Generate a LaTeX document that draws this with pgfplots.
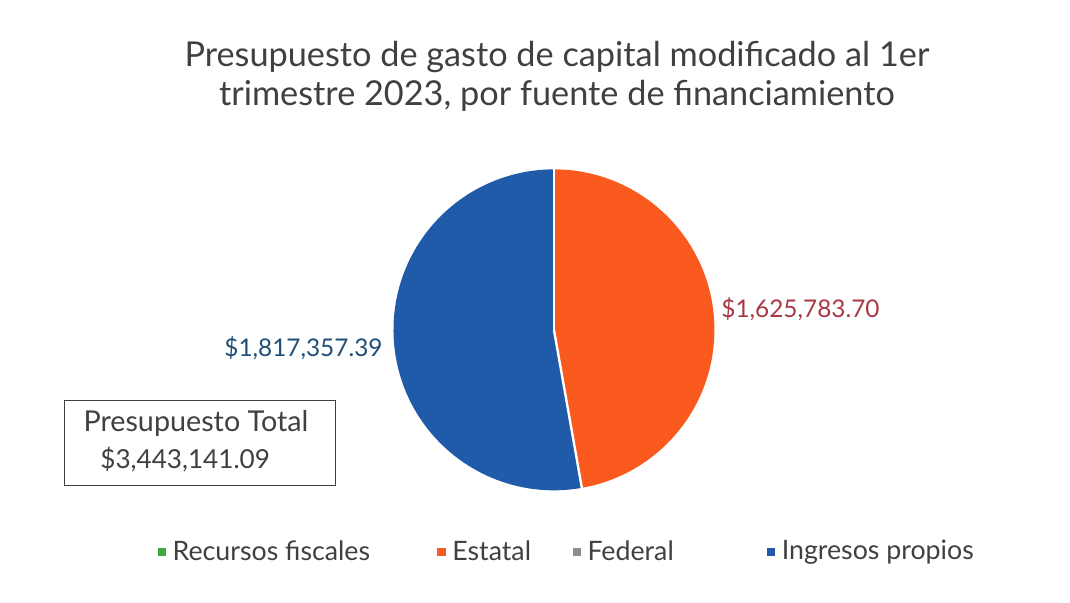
\documentclass[border=0pt]{standalone}
\usepackage{pgfplots}
\usepackage{pgfplotstable}
\pgfplotsset{compat=1.18}
\usepackage{fontspec}
\setmainfont{Lato}
\definecolor{cEst}{HTML}{FA5A1E}
\definecolor{cIng}{HTML}{1F5BA8}
\definecolor{cRec}{HTML}{3DAA3D}
\definecolor{cFed}{HTML}{8C8C8C}
\definecolor{lEst}{HTML}{A83846}
\definecolor{lIng}{HTML}{1F4E79}
\definecolor{ctit}{HTML}{404040}

\pgfplotstableread{
fuente valor
Recursos 0
Estatal 1625783.70
Federal 0
Ingresos 1817357.39
}\datos

\begin{document}
\pgfplotstablegetelem{1}{valor}\of\datos \let\vEst\pgfplotsretval
\pgfplotstablegetelem{3}{valor}\of\datos \let\vIng\pgfplotsretval
\edef\angEst{\fpeval{360*\vEst/(\vEst+\vIng)}}
\edef\endEst{\fpeval{90-\angEst}}
\begin{tikzpicture}
\useasboundingbox (0,0) rectangle (535pt,304pt);
\begin{axis}[
  at={(0,0)}, anchor=south west,
  scale only axis, width=535pt, height=304pt,
  xmin=0, xmax=1070, ymin=0, ymax=608,
  hide axis, clip=false,
  legend columns=4,
  legend style={draw=none, fill=none, at={(axis cs:563,51)}, anchor=center,
    font=\fontsize{13.5}{15}\selectfont, text=ctit,
    /tikz/column 1/.style={column sep=1.5pt},
    /tikz/column 3/.style={column sep=1.5pt},
    /tikz/column 5/.style={column sep=1.5pt},
    /tikz/column 7/.style={column sep=1.5pt},
    /tikz/column 2/.style={column sep=32pt},
    /tikz/column 4/.style={column sep=19pt},
    /tikz/column 6/.style={column sep=45pt}},
]
% slices
\fill[cEst] (axis cs:549,275) -- ++(90:81pt) arc[start angle=90, end angle=\endEst, radius=81pt] -- cycle;
\fill[cIng] (axis cs:549,275) -- ++(\endEst:81pt) arc[start angle=\endEst, end angle=-270, radius=81pt] -- cycle;
\draw[white, line width=1.2pt] (axis cs:549,275) -- ++(90:82pt);
\draw[white, line width=1.2pt] (axis cs:549,275) -- ++(\endEst:82pt);

% legend
\addlegendimage{legend image code/.code={\fill[cRec] (0pt,-1.8pt) rectangle (3.6pt,1.8pt);}}
\addlegendentry{Recursos fiscales}
\addlegendimage{legend image code/.code={\fill[cEst] (0pt,-1.8pt) rectangle (3.6pt,1.8pt);}}
\addlegendentry{Estatal}
\addlegendimage{legend image code/.code={\fill[cFed] (0pt,-1.8pt) rectangle (3.6pt,1.8pt);}}
\addlegendentry{Federal}
\addlegendimage{legend image code/.code={\fill[cIng] (0pt,-1.8pt) rectangle (3.6pt,1.8pt);}}
\addlegendentry{Ingresos propios}

% title
\node[align=center, text=ctit, font=\fontsize{17.3}{20}\selectfont] at (axis cs:552,531)
  {Presupuesto de gasto de capital modificado al 1er\\trimestre 2023, por fuente de financiamiento};
% data labels
\node[text=lEst, font=\fontsize{12.3}{14}\selectfont, anchor=west] at (axis cs:711,296) {\$1,625,783.70};
\node[text=lIng, font=\fontsize{12.3}{14}\selectfont, anchor=east] at (axis cs:383,256) {\$1,817,357.39};
% total box
\draw[ctit, line width=0.5pt] (axis cs:55,118) rectangle (axis cs:328,204);
\node[text=ctit, font=\fontsize{14.5}{17}\selectfont, anchor=west] at (axis cs:67,181) {Presupuesto Total};
\node[text=ctit, font=\fontsize{13.2}{17}\selectfont, anchor=west] at (axis cs:84,144) {\$3,443,141.09};
\end{axis}
\end{tikzpicture}
\end{document}
